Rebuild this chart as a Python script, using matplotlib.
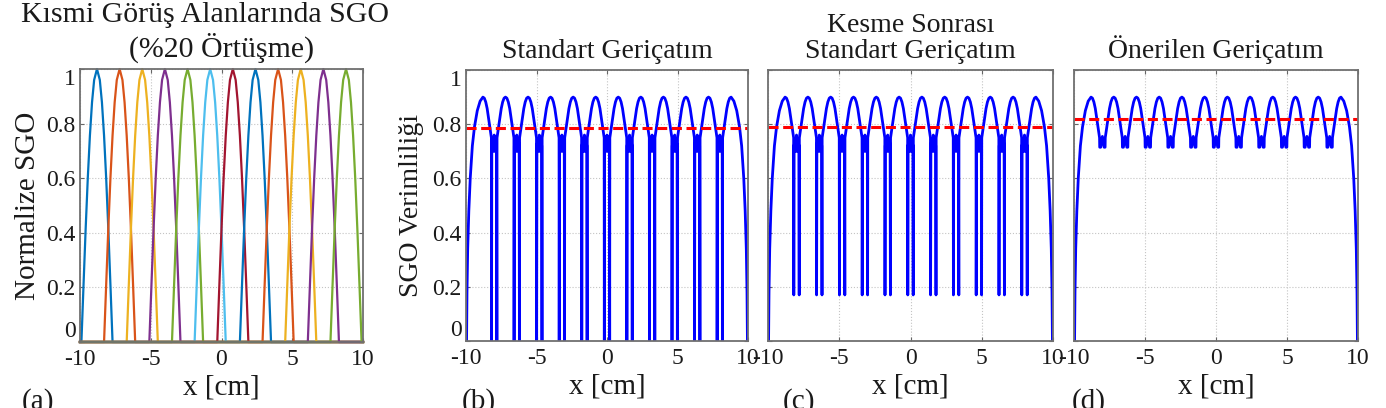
import matplotlib
matplotlib.use('Agg')
import matplotlib.pyplot as plt

plt.rcParams['font.family'] = ['Liberation Serif', 'DejaVu Serif']
plt.rcParams['text.color'] = '#1a1a1a'
plt.rcParams['axes.labelcolor'] = '#1a1a1a'
plt.rcParams['xtick.color'] = '#666666'
plt.rcParams['ytick.color'] = '#666666'
plt.rcParams['xtick.labelcolor'] = '#1a1a1a'
plt.rcParams['ytick.labelcolor'] = '#1a1a1a'

# ---- data ----
# centres of the 12 partial fields of view [cm]
centers = [-8.8, -7.2, -5.6, -4.0, -2.4, -0.8, 0.8, 2.4, 4.0, 5.6, 7.2, 8.8]
# MATLAB default colour order, as it cycles over the 12 curves
fov_colors = ['#0072BD', '#D95319', '#EDB120', '#7E2F8E', '#77AC30', '#4DBEEE',
              '#A2142F', '#0072BD', '#D95319', '#EDB120', '#7E2F8E', '#77AC30']
# normalized SNR profile of one field of view (offset from its centre)
fov_dx = [-1.1, -0.95, -0.8, -0.65, -0.5, -0.35, -0.2, 0.0, 0.2, 0.35, 0.5, 0.65, 0.8, 0.95, 1.1]
fov_y = [0.0, 0.21, 0.415, 0.6, 0.756, 0.878, 0.96, 1.0, 0.96, 0.878, 0.756, 0.6, 0.415, 0.21, 0.0]

# efficiency arch (offset from centre, one side)
arch_dx = [0.0, 0.1, 0.2, 0.3, 0.4, 0.5, 0.6]
arch_y = [0.90, 0.896, 0.882, 0.858, 0.822, 0.785, 0.75]
# outer edge of the first / last arch
edge_dx = [0.0, 0.2, 0.4, 0.6, 0.75, 0.9, 1.0, 1.08, 1.13, 1.16]
edge_y = [0.90, 0.885, 0.85, 0.79, 0.72, 0.6, 0.48, 0.34, 0.18, 0.0]

# overlap region between two arches (offset from overlap centre)
gap_bc_dx = [-0.2, -0.19, -0.17, -0.1, -0.05, 0.0, 0.05, 0.1, 0.17, 0.19, 0.2]
gap_b_y = [0.75, 0.0, 0.72, 0.745, 0.70, 0.76, 0.70, 0.745, 0.72, 0.0, 0.75]
gap_c_y = [0.75, 0.17, 0.72, 0.745, 0.70, 0.76, 0.70, 0.745, 0.72, 0.17, 0.75]
gap_d_dx = [-0.2, -0.19, -0.12, 0.0, 0.12, 0.19, 0.2]
gap_d_y = [0.75, 0.715, 0.715, 0.755, 0.715, 0.715, 0.75]

# mean efficiency (red dashed)
mean_b = 0.785
mean_c = 0.79
mean_d = 0.82

xticks = [-10, -5, 0, 5, 10]
yticks = [0, 0.2, 0.4, 0.6, 0.8, 1]
ytick_labels = ['0', '0.2', '0.4', '0.6', '0.8', '1']


def efficiency_curve(gap_dx, gap_y):
    xs, ys = [], []
    xs += [centers[0] - d for d in edge_dx[::-1]]
    ys += edge_y[::-1]
    for i, c in enumerate(centers):
        if i > 0:
            xs += [c - d for d in arch_dx[::-1]]
            ys += arch_y[::-1]
        if i < len(centers) - 1:
            xs += [c + d for d in arch_dx[1:]]
            ys += arch_y[1:]
            g = (c + centers[i + 1]) / 2
            xs += [g + d for d in gap_dx]
            ys += gap_y
        else:
            xs += [c + d for d in edge_dx[1:]]
            ys += edge_y[1:]
    return xs, ys


def style_axes(ax, show_ylabels):
    ax.set_xlim(-10, 10)
    ax.set_ylim(0, 1)
    ax.set_xticks(xticks)
    ax.set_xticklabels([str(t) for t in xticks])
    ax.set_yticks(yticks)
    if show_ylabels:
        ax.set_yticklabels(ytick_labels)
    else:
        ax.set_yticklabels([])
    ax.tick_params(direction='in', length=3, width=0.8, top=True, right=True,
                   labelsize=17)
    ax.tick_params(axis='x', pad=5)
    ax.tick_params(axis='y', pad=3)
    ax.grid(True, linestyle=':', color='#c4c4c4', linewidth=0.8)
    for s in ax.spines.values():
        s.set_color('#707070')
        s.set_linewidth(1.3)
    ax.set_xlabel('x [cm]', fontsize=21, labelpad=3)


W, H = 1386, 408
fig = plt.figure(figsize=(W / 100, H / 100), dpi=100)


def add_axes(left, right, top=69, bottom=342):
    return fig.add_axes([left / W, 1 - bottom / H, (right - left) / W, (bottom - top) / H])


# (a) normalized SNR of each field of view
ax_a = add_axes(80, 363)
for c, col in zip(centers, fov_colors):
    xs = [-10] + [c + d for d in fov_dx] + [10]
    ys = [0] + fov_y + [0]
    ax_a.plot(xs, ys, color=col, linewidth=1.6, clip_on=False)
style_axes(ax_a, True)
ax_a.set_ylabel('Normalize SGO', fontsize=21, labelpad=4)
fig.text(205 / W, 1 - 2 / H, 'Kısmi Görüş Alanlarında SGO', ha='center', va='top', fontsize=21.5)
fig.text(222 / W, 1 - 33 / H, '(%20 Örtüşme)', ha='center', va='top', fontsize=21.5)

# (b) standard reconstruction
ax_b = add_axes(466, 748, 70, 341)
xb, yb = efficiency_curve(gap_bc_dx, gap_b_y)
ax_b.plot(xb, yb, color='blue', linewidth=2.0)
ax_b.axhline(mean_b, color='red', linewidth=2.2, dashes=(3.3, 1.5))
style_axes(ax_b, True)
ax_b.set_ylabel('SGO Verimliliği', fontsize=20, labelpad=6)
ax_b.set_title('Standart Geriçatım', fontsize=20, pad=9)

# (c) standard reconstruction after cropping
ax_c = add_axes(768, 1053, 70, 341)
xc, yc = efficiency_curve(gap_bc_dx, gap_c_y)
ax_c.plot(xc, yc, color='blue', linewidth=2.0)
ax_c.axhline(mean_c, color='red', linewidth=2.2, dashes=(3.3, 1.5))
style_axes(ax_c, False)
ax_c.set_title('Kesme Sonrası\nStandart Geriçatım', fontsize=20, pad=9, linespacing=1.05)

# (d) proposed reconstruction
ax_d = add_axes(1074, 1358, 70, 341)
xd, yd = efficiency_curve(gap_d_dx, gap_d_y)
ax_d.plot(xd, yd, color='blue', linewidth=2.0)
ax_d.axhline(mean_d, color='red', linewidth=2.2, dashes=(3.3, 1.5))
style_axes(ax_d, False)
ax_d.set_title('Önerilen Geriçatım', fontsize=20, pad=9)

# keep the end y labels inside the axes height ("0" above, "1" below its tick)
for ax in (ax_a, ax_b):
    ticks = ax.yaxis.get_major_ticks()
    ticks[0].label1.set_verticalalignment('bottom')
    ticks[-1].label1.set_verticalalignment('top')

# panel letters (cut by the bottom edge, as in the reference)
for lbl, x in [('(a)', 22), ('(b)', 462), ('(c)', 783), ('(d)', 1072)]:
    fig.text(x / W, 1 - 388 / H, lbl, ha='left', va='top', fontsize=21)

fig.savefig('out.png', dpi=100)
